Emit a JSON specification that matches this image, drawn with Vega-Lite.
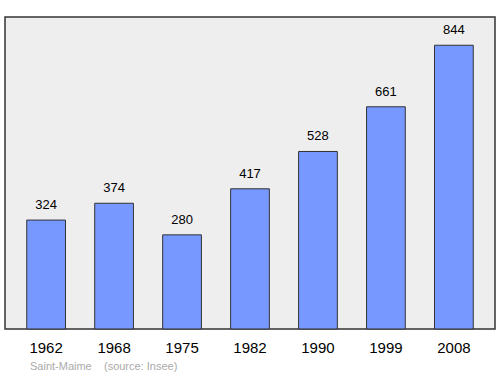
{
  "$schema": "https://vega.github.io/schema/vega-lite/v6.json",
  "width": 490,
  "height": 312,
  "autosize": "none",
  "padding": {"left": 5, "top": 17, "right": 5, "bottom": 45},
  "background": "white",
  "config": {
    "view": {"fill": "#eeeeee", "stroke": "#333333", "strokeWidth": 1.5},
    "font": "Liberation Sans"
  },
  "title": {
    "text": "Saint-Maime\u00a0\u00a0\u00a0\u00a0(source: Insee)",
    "orient": "bottom",
    "anchor": "start",
    "dx": 25,
    "offset": 6,
    "fontSize": 11,
    "fontWeight": "normal",
    "color": "#aaaaaa",
    "font": "Liberation Sans"
  },
  "data": {
    "values": [
      {"year": "1962", "pop": 324},
      {"year": "1968", "pop": 374},
      {"year": "1975", "pop": 280},
      {"year": "1982", "pop": 417},
      {"year": "1990", "pop": 528},
      {"year": "1999", "pop": 661},
      {"year": "2008", "pop": 844}
    ]
  },
  "encoding": {
    "x": {
      "field": "year",
      "type": "nominal",
      "sort": null,
      "scale": {"paddingInner": 0.43, "paddingOuter": 0.32},
      "axis": {
        "title": null,
        "domain": false,
        "ticks": false,
        "labelAngle": 0,
        "labelFontSize": 15,
        "labelColor": "#000000",
        "labelPadding": 11
      }
    },
    "y": {
      "field": "pop",
      "type": "quantitative",
      "scale": {"domain": [0, 928], "nice": false},
      "axis": null
    }
  },
  "layer": [
    {
      "mark": {"type": "bar", "color": "#7799ff", "stroke": "#333333", "strokeWidth": 1}
    },
    {
      "mark": {"type": "text", "baseline": "bottom", "dy": -8, "fontSize": 13, "color": "#000000"},
      "encoding": {"text": {"field": "pop", "type": "quantitative"}}
    }
  ]
}
